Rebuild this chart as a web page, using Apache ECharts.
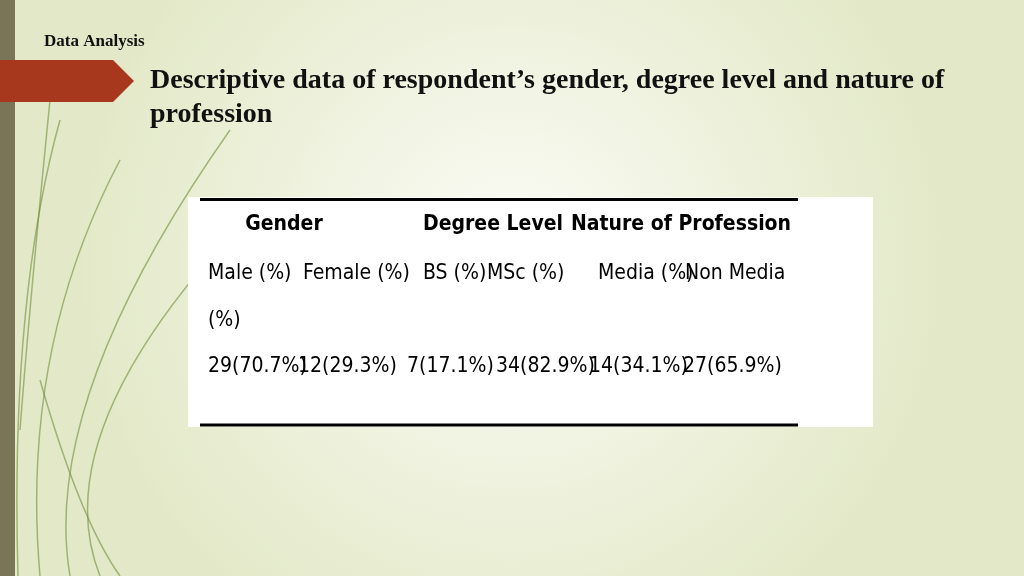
<!DOCTYPE html>
<html><head><meta charset="utf-8">
<script src="https://cdn.jsdelivr.net/npm/echarts@6/dist/echarts.min.js"></script>
<style>html,body{margin:0;padding:0}#c{width:1024px;height:576px}</style>
</head><body><div id="c"></div>
<script>
const slideLabel = "Data Analysis";
const titleLines = ["Descriptive data of respondent’s gender, degree level and nature of", "profession"];
const groupHeaders = ["Gender", "Degree Level", "Nature of Profession"];
const groupHeaderX = [284, 493, 681];
const columnLabels = ["Male (%)", "Female (%)", "BS (%)", "MSc (%)", "Media (%)", "Non Media"];
const columnX = [208, 303, 423, 487, 598, 685];
const counts = [29, 12, 7, 34, 14, 27];
const percents = ["70.7", "29.3", "17.1", "82.9", "34.1", "65.9"];
const valueX = [208, 298, 407, 496, 589, 683];

const chart = echarts.init(document.getElementById('c'));
const tf = "'DejaVu Sans Condensed','Liberation Sans Narrow',sans-serif";
const els = [];
els.push({type:'rect',shape:{x:0,y:0,width:1024,height:576},style:{fill:new echarts.graphic.RadialGradient(0.5,0.45,0.75,[{offset:0,color:'#fbfcf6'},{offset:1,color:'#e3e9c8'}])},silent:true});
const curves=[[18,576,10,300,60,120],[40,576,20,350,120,160],[70,576,40,400,230,130],[100,576,50,450,200,270],[20,430,30,300,50,100],[120,576,80,520,40,380]];
curves.forEach(c=>els.push({type:'bezierCurve',shape:{x1:c[0],y1:c[1],cpx1:c[2],cpy1:c[3],x2:c[4],y2:c[5]},style:{stroke:'#6f8f3a',lineWidth:1.5,fill:null,opacity:0.6}}));
els.push({type:'rect',shape:{x:0,y:0,width:15,height:576},style:{fill:'#7a7556'}});
els.push({type:'polygon',shape:{points:[[0,60],[113,60],[134,81],[113,102],[0,102]]},style:{fill:'#a8381d'}});
els.push({type:'text',x:44,y:42,style:{text:slideLabel,font:"bold 17px 'Liberation Serif',serif",fill:'#111',verticalAlign:'middle'}});
titleLines.forEach((t,i)=>els.push({type:'text',x:150,y:81+i*34,style:{text:t,font:"bold 28px 'Liberation Serif',serif",fill:'#111',verticalAlign:'middle'}}));
els.push({type:'rect',shape:{x:188,y:197,width:685,height:230},style:{fill:'#ffffff'}});
els.push({type:'line',shape:{x1:200,y1:199.5,x2:798,y2:199.5},style:{stroke:'#000',lineWidth:3}});
els.push({type:'line',shape:{x1:200,y1:425,x2:798,y2:425},style:{stroke:'#000',lineWidth:3}});
function txt(s,x,y,bold,align){els.push({type:'text',x:x,y:y,style:{text:s,font:(bold?'bold ':'')+"21px "+tf,fill:'#000',verticalAlign:'middle',align:align||'left'}});}
groupHeaders.forEach((h,i)=>txt(h,groupHeaderX[i],225,true,'center'));
columnLabels.forEach((h,i)=>txt(h,columnX[i],274,false));
txt("(%)",208,321,false);
counts.forEach((c,i)=>txt(c+"("+percents[i]+"%)",valueX[i],367,false));
chart.setOption({graphic:{elements:els}});
</script></body></html>
